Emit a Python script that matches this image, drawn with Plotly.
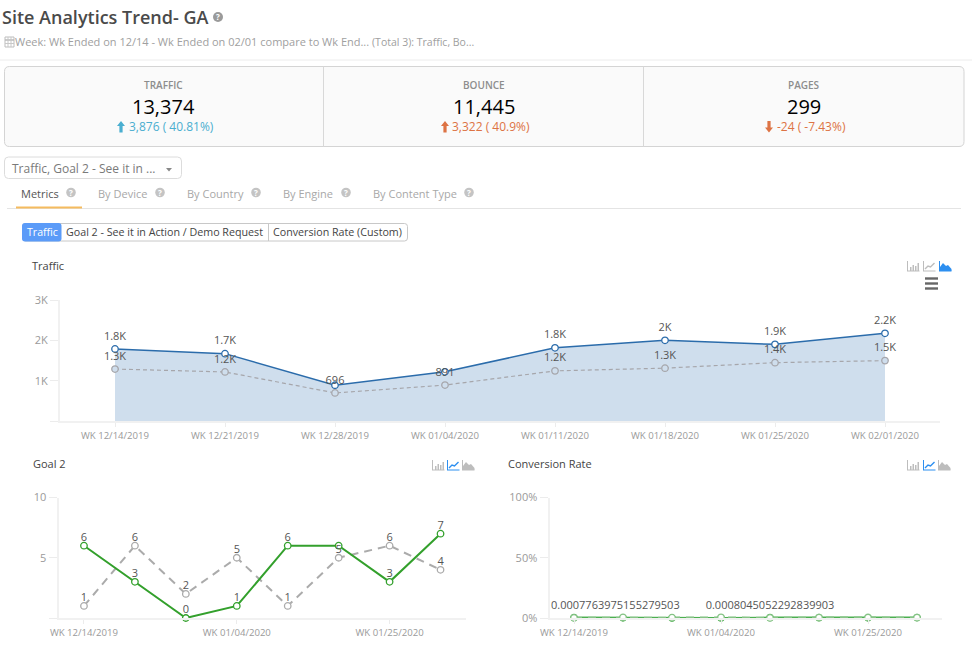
import plotly.graph_objects as go

W, H = 972, 668
FONT = "Open Sans"

# ---------- data ----------
weeks = ["WK 12/14/2019", "WK 12/21/2019", "WK 12/28/2019", "WK 01/04/2020",
         "WK 01/11/2020", "WK 01/18/2020", "WK 01/25/2020", "WK 02/01/2020"]
traffic = [1786, 1670, 886, 1220, 1815, 2000, 1900, 2175]
traffic_prev = [1288, 1216, 696, 891, 1243, 1310, 1447, 1497]
traffic_labels = ["1.8K", "1.7K", "", "", "1.8K", "2K", "1.9K", "2.2K"]
traffic_prev_labels = ["1.3K", "1.2K", "696", "891", "1.2K", "1.3K", "1.4K", "1.5K"]
goal = [6, 3, 0, 1, 6, 6, 3, 7]
goal_prev = [1, 6, 2, 5, 1, 5, 6, 4]
goal_labels = ["6", "3", "0", "1", "6", "", "3", "7"]
goal_prev_labels = ["1", "6", "2", "5", "1", "5", "6", "4"]
rate = [0.0034, 0.0018, 0.0, 0.0008, 0.0033, 0.003, 0.0016, 0.0032]
rate_prev = [0.0007763975155279503, 0.0049, 0.0029, 0.0056, 0.0008045052292839903, 0.0038, 0.0041, 0.0027]
rate_label_first = "0.0007763975155279503"
rate_labels = ["", "", "", "", "0.0008045052292839903", "", "", ""]
kpis = [("TRAFFIC", "13,374", "3,876 ( 40.81%)"),
        ("BOUNCE", "11,445", "3,322 ( 40.9%)"),
        ("PAGES", "299", "-24 ( -7.43%)")]
tabs = ["Metrics", "By Device", "By Country", "By Engine", "By Content Type"]

# ---------- colours ----------
BLUE, AREA, GREY, GREEN = "#2b6cab", "#cfdeed", "#a6a6ab", "#33a02c"
AXIS, TICK_TXT, LABEL = "#f1f1f1", "#9a9a9a", "#555555"
UP, WARN = "#4aaed0", "#dd7344"

fx = lambda x: x / W
fy = lambda y: 1 - y / H
dx = lambda a, b: [a / W, b / W]
dy = lambda top, bot: [1 - bot / H, 1 - top / H]

shapes, notes = [], []


def text(x, y, s, size=11, color="#777777", anchor="left", weight=None):
    font = dict(family=FONT, size=size, color=color)
    if weight:
        font["weight"] = weight
    notes.append(dict(x=fx(x), y=fy(y), xref="paper", yref="paper", text=s, showarrow=False,
                      xanchor=anchor, yanchor="middle", font=font, borderpad=0, borderwidth=0))


def rect(x0, y0, x1, y1, fill=None, line=None, lw=1):
    shapes.append(dict(type="rect", xref="paper", yref="paper", x0=fx(x0), x1=fx(x1), y0=fy(y0), y1=fy(y1),
                       fillcolor=fill or "rgba(0,0,0,0)", line=dict(color=line or "rgba(0,0,0,0)", width=lw if line else 0)))


def hline(x0, x1, y, color, lw=1):
    shapes.append(dict(type="line", xref="paper", yref="paper", x0=fx(x0), x1=fx(x1), y0=fy(y), y1=fy(y),
                       line=dict(color=color, width=lw)))


def vline(x, y0, y1, color, lw=1):
    shapes.append(dict(type="line", xref="paper", yref="paper", x0=fx(x), x1=fx(x), y0=fy(y0), y1=fy(y1),
                       line=dict(color=color, width=lw)))


def poly(points, fill=None, line=None, lw=1, close=True):
    d = "M " + " L ".join(f"{fx(a):.5f},{fy(b):.5f}" for a, b in points) + (" Z" if close else "")
    shapes.append(dict(type="path", xref="paper", yref="paper", path=d, fillcolor=fill or "rgba(0,0,0,0)",
                       line=dict(color=line or "rgba(0,0,0,0)", width=lw if line else 0)))


def rrect(x0, y0, x1, y1, r, fill=None, line=None, lw=1):
    X, Y = fx, fy
    d = (f"M {X(x0+r)},{Y(y0)} L {X(x1-r)},{Y(y0)} Q {X(x1)},{Y(y0)} {X(x1)},{Y(y0+r)} "
         f"L {X(x1)},{Y(y1-r)} Q {X(x1)},{Y(y1)} {X(x1-r)},{Y(y1)} L {X(x0+r)},{Y(y1)} "
         f"Q {X(x0)},{Y(y1)} {X(x0)},{Y(y1-r)} L {X(x0)},{Y(y0+r)} Q {X(x0)},{Y(y0)} {X(x0+r)},{Y(y0)} Z")
    shapes.append(dict(type="path", xref="paper", yref="paper", path=d, fillcolor=fill or "rgba(0,0,0,0)",
                       line=dict(color=line or "rgba(0,0,0,0)", width=lw if line else 0)))


def help_icon(x, y, r=5, color="#b5b5b5"):
    shapes.append(dict(type="circle", xref="paper", yref="paper", x0=fx(x - r), x1=fx(x + r), y0=fy(y + r), y1=fy(y - r),
                       fillcolor=color, line=dict(width=0)))
    text(x, y, "?", size=8, color="#ffffff", anchor="center", weight=700)


def arrow(x, ytop, ybot, color, up=True):
    if up:
        poly([(x, ytop), (x + 4, ytop + 5), (x + 1.6, ytop + 5), (x + 1.6, ybot), (x - 1.6, ybot), (x - 1.6, ytop + 5), (x - 4, ytop + 5)], fill=color)
    else:
        poly([(x, ybot), (x + 4, ybot - 5), (x + 1.6, ybot - 5), (x + 1.6, ytop), (x - 1.6, ytop), (x - 1.6, ybot - 5), (x - 4, ybot - 5)], fill=color)


def chart_icons(x_bar, x_line, x_area, top, active):
    bot = top + 10
    on, off = "#2d8ff0", "#bdbdbd"
    for i, x0 in enumerate((x_bar, x_line, x_area)):
        c = on if i == active else off
        hline(x0, x0 + 12.5, bot, c, 1)
        if i == 0:
            for dxx, h in ((3, 4), (5.5, 6), (8, 5), (10.5, 8)):
                rect(x0 + dxx, bot - h, x0 + dxx + 1.5, bot, fill=c)
            vline(x0 + .5, top, bot, c, 1)
        elif i == 1:
            vline(x0 + .5, top, bot, c, 1)
            poly([(x0 + 2, bot - 2), (x0 + 5, bot - 5), (x0 + 7.5, bot - 4), (x0 + 11.5, bot - 8)], line=c, lw=1.4, close=False)
        else:
            vline(x0 + .5, top, bot, c, 1)
            poly([(x0 + 1, bot), (x0 + 1, bot - 4), (x0 + 4, bot - 8), (x0 + 7, bot - 5), (x0 + 9, bot - 6), (x0 + 12.5, bot - 2), (x0 + 12.5, bot)], fill=c)


# ---------- header ----------
text(2, 17, "Site Analytics Trend- GA", size=18, color="#4a4a4a", weight=600)
help_icon(218, 17, 5, "#9a9a9a")
# calendar icon
rect(5, 37, 14, 47, line="#bdbdbd", lw=1)
hline(5, 14, 40, "#bdbdbd", 1.6)
hline(5, 14, 43.5, "#c8c8c8", 1)
vline(8, 37, 47, "#c8c8c8", 1)
vline(11, 37, 47, "#c8c8c8", 1)
text(15, 41, "Week: Wk Ended on 12/14 - Wk Ended on 02/01 compare to Wk End...", size=11, color="#a0a0a0")
text(372, 42, "(Total 3): Traffic, Bo...", size=10.5, color="#a0a0a0")
hline(0, W, 60, "#ececec", 1)

# ---------- KPI strip ----------
rrect(4.5, 66.5, 964, 146.5, 5, fill="#fafafa", line="#d4d4d4", lw=1)
vline(323.5, 66.5, 146.5, "#d8d8d8", 1)
vline(643.5, 66.5, 146.5, "#d8d8d8", 1)
kpi_x = [163.5, 483.5, 803.5]
arrow_x = [121, 445, 769]
delta_x = [129, 452, 777]
delta_col = [UP, WARN, WARN]
for i, (name, val, delta) in enumerate(kpis):
    text(kpi_x[i], 85.5, name, size=10, color="#8d8d8d", anchor="center", weight=600)
    text(kpi_x[i], 106.5, val, size=20, color="#000000", anchor="center", weight=500)
    arrow(arrow_x[i], 121, 132.5, delta_col[i], up=i < 2)
    text(delta_x[i], 127, delta, size=12, color=delta_col[i])

# ---------- dropdown / tabs / buttons ----------
rrect(4.5, 157, 181.5, 178.5, 4, fill="#ffffff", line="#dcdcdc", lw=1)
text(12, 168, "Traffic, Goal 2 - See it in ...", size=12, color="#7a7a7a")
poly([(166, 168), (172, 168), (169, 171.5)], fill="#888888")
tab_x = [21, 98, 187, 283, 373]
tab_icon = [71, 160, 256, 346, 469]
for i, t in enumerate(tabs):
    text(tab_x[i], 193.5, t, size=11, color="#555555" if i == 0 else "#a8a8a8")
    help_icon(tab_icon[i], 192.5, 4.8, "#c4c4c4")
hline(7, 961, 208.5, "#e4e4e4", 1)
hline(16, 82, 207.5, "#f5bb5e", 2)
rrect(22.5, 223.5, 407.5, 241, 3, fill="#ffffff", line="#c8c8c8", lw=1)
rrect(22, 223, 61.5, 241.5, 3, fill="#5b9bf8")
vline(268.5, 223.5, 241, "#c8c8c8", 1)
text(27, 232, "Traffic", size=10.6, color="#ffffff")
text(66, 232, "Goal 2 - See it in Action / Demo Request", size=10.7, color="#444444")
text(273, 232, "Conversion Rate (Custom)", size=10.7, color="#444444")

# ---------- chart titles and icons ----------
text(32, 265, "Traffic", size=11, color="#444444", weight=500)
text(33, 463.5, "Goal 2", size=11, color="#444444", weight=500)
text(508, 463.5, "Conversion Rate", size=11, color="#444444", weight=500)
chart_icons(907, 923, 939, 261, 2)
chart_icons(432, 447, 462, 460, 1)
chart_icons(907, 923, 938, 460, 1)
for yy in (278.5, 283.5, 288.5):
    hline(925, 938, yy, "#666666", 2.4)

# ---------- charts ----------
fig = go.Figure()
tfont = dict(family=FONT, size=11, color=LABEL)


def line_trace(y, color, xa, ya, dash="solid", width=1.5, fill=None, mfill="#ffffff", msize=6.5):
    fig.add_trace(go.Scatter(
        x=weeks, y=y, xaxis=xa, yaxis=ya, mode="lines+markers", cliponaxis=False, showlegend=False,
        fill=fill, fillcolor=AREA if fill else None, line=dict(color=color, width=width, dash=dash),
        marker=dict(size=msize, color=mfill, line=dict(color=color, width=1.3))))


def label_trace(y, labels, xa, ya, gap):
    # invisible markers only set how far each label sits above its point
    fig.add_trace(go.Scatter(
        x=weeks, y=y, xaxis=xa, yaxis=ya, mode="markers+text", text=labels, textposition="top center",
        textfont=tfont, cliponaxis=False, showlegend=False, marker=dict(size=gap, color="rgba(0,0,0,0)")))


line_trace(traffic, BLUE, "x", "y", fill="tozeroy")
line_trace(traffic_prev, GREY, "x", "y", dash="4px,3px", width=1.2, mfill=AREA)
line_trace(goal_prev, "#ababab", "x2", "y2", dash="8px,6px", width=2)
line_trace(goal, GREEN, "x2", "y2", width=2)
line_trace(rate, "#4caf50", "x3", "y3", width=2)
line_trace(rate_prev, "#86c386", "x3", "y3", dash="8px,6px", width=2)
label_trace(traffic, traffic_labels, "x", "y", 9)
label_trace(traffic_prev, traffic_prev_labels, "x", "y", 9)
label_trace(goal_prev, goal_prev_labels, "x2", "y2", 2)
label_trace(goal, goal_labels, "x2", "y2", 2)
label_trace(rate_prev, rate_labels, "x3", "y3", 8)
notes.append(dict(x=-0.5, y=0, xref="x3", yref="y3", text=rate_label_first, showarrow=False, xanchor="left",
                  yanchor="bottom", yshift=5, font=tfont, borderpad=0))


def axes(tickvals, yvals, ytext):
    ax_x = dict(type="category", categoryorder="array", categoryarray=weeks, range=[-0.5, 7.5],
                tickmode="array", tickvals=tickvals, ticktext=tickvals, showgrid=False, zeroline=False,
                showline=True, linecolor=AXIS, linewidth=2, ticks="outside", ticklen=4, tickcolor="#ececec",
                tickfont=dict(family=FONT, size=9.6, color=TICK_TXT), fixedrange=True, automargin=False)
    ax_y = dict(tickmode="array", tickvals=yvals, ticktext=ytext, showgrid=False, zeroline=False,
                showline=True, linecolor=AXIS, linewidth=2, ticks="outside", ticklen=8, tickcolor="#ececec",
                tickfont=dict(family=FONT, size=11, color=TICK_TXT), fixedrange=True, automargin=False)
    return ax_x, ax_y


every3 = [weeks[0], weeks[3], weeks[6]]
x1, y1 = axes(weeks, [0, 1000, 2000, 3000], ["", "1K", "2K", "3K"])
x2, y2 = axes(every3, [0, 5, 10], ["", "5", "10"])
x3, y3 = axes(every3, [0, 0.5, 1], ["0%", "50%", "100%"])
x1.update(domain=dx(60, 940), anchor="y")
y1.update(domain=dy(300, 421), range=[0, 3000], anchor="x")
x2.update(domain=dx(58.5, 466), anchor="y2")
y2.update(domain=dy(497.5, 618), range=[0, 10], anchor="x2")
x3.update(domain=dx(549.5, 941.5), anchor="y3")
y3.update(domain=dy(497.5, 618), range=[0, 1], anchor="x3")

fig.update_layout(
    width=W, height=H, margin=dict(l=0, r=0, t=0, b=0, autoexpand=False),
    paper_bgcolor="#ffffff", plot_bgcolor="#ffffff", showlegend=False, hovermode=False,
    font=dict(family=FONT), shapes=shapes, annotations=notes,
    xaxis=x1, yaxis=y1, xaxis2=x2, yaxis2=y2, xaxis3=x3, yaxis3=y3)

fig.write_html("out.html", config=dict(displayModeBar=False),
               post_script="document.body.style.margin='0';document.body.style.overflow='hidden';")
